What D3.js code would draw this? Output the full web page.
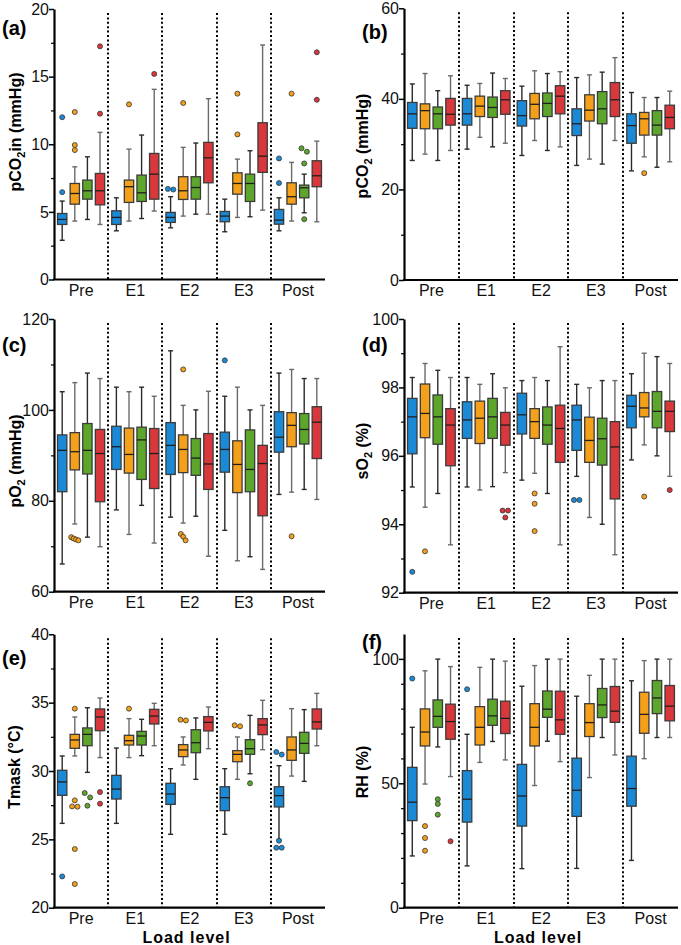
<!DOCTYPE html>
<html><head><meta charset="utf-8">
<script src="https://cdn.jsdelivr.net/npm/d3@7"></script>
<style>
body{margin:0;background:#fff;}
svg{display:block;font-family:"Liberation Sans",Arial,Helvetica,sans-serif;}
</style>
</head><body>
<svg id="chart" width="681" height="945"></svg>
<script>
// ---------------- DATA ----------------
const groups = ["Pre", "E1", "E2", "E3", "Post"];
const seriesColors = ["#1b8ad6", "#f5a01a", "#5ca72b", "#d8383b"];
// boxes: per group, per series: [whiskerLow, q1, median, q3, whiskerHigh]
const pco2inBoxes = [
  [[2.9,4.07,4.44,4.88,5.8],[4.32,5.57,6.36,7.1,8.33],[4.44,5.94,6.56,7.35,9.07],[4.07,5.52,6.56,7.84,10.88]],
  [[3.6,4.07,4.59,5.08,6.04],[4.32,5.7,6.86,7.35,9.64],[4.51,5.77,6.41,7.72,10.68],[5.06,5.94,7.79,9.32,14.06]],
  [[3.82,4.22,4.59,4.96,6.12],[4.69,5.92,6.56,7.6,9.77],[4.83,5.94,6.8,7.6,10.09],[4.83,7.15,9.0,10.14,13.37]],
  [[3.53,4.27,4.69,5.03,5.94],[4.59,6.31,7.1,7.89,8.9],[4.64,5.77,7.1,7.79,9.52],[5.13,7.92,9.12,11.59,17.34]],
  [[3.6,4.09,4.39,5.18,6.04],[4.32,5.57,6.12,7.15,8.66],[4.93,6.04,6.78,6.98,7.79],[4.27,6.86,7.67,8.78,10.23]]
];
// outliers: [group, seriesIndex, value]
const pco2inOutliers = [
  ["Pre",0,6.46],["Pre",0,12.0],["Pre",1,12.38],["Pre",1,9.94],["Pre",1,9.57],["Pre",3,17.24],["Pre",3,12.26],
  ["E1",1,12.95],["E1",3,15.2],
  ["E2",0,6.65],["E2",0,6.7],["E2",1,13.05],
  ["E3",1,13.74],["E3",1,10.73],
  ["Post",0,8.95],["Post",0,7.13],["Post",1,13.74],["Post",2,9.7],["Post",2,9.45],["Post",2,8.58],["Post",2,4.46],["Post",3,16.8],["Post",3,13.29]
];
const pco2Boxes = [
  [[26.4,33.5,36.7,39.2,43.3],[27.8,33.4,37.4,38.9,45.6],[26.4,33.4,36.7,38.2,41.8],[28.6,34.2,36.6,40.1,45.1]],
  [[28.9,34.2,36.7,40.1,43.0],[31.5,36.1,38.4,40.6,43.4],[29.4,35.9,38.1,40.4,45.7],[30.2,36.6,39.8,41.8,44.5]],
  [[27.5,34.0,36.3,39.6,42.8],[30.8,35.6,38.8,41.2,46.2],[28.6,36.1,39.0,41.3,45.6],[29.4,36.7,40.6,42.9,46.0]],
  [[25.3,31.9,34.5,37.8,44.7],[26.7,35.1,37.5,40.9,45.3],[25.6,34.5,37.8,41.6,45.9],[30.8,36.1,39.8,43.6,49.1]],
  [[24.1,30.2,34.1,36.7,41.4],[27.2,32.0,35.6,37.0,40.3],[24.9,32.0,34.2,37.4,40.3],[26.1,33.4,35.9,38.6,41.7]]
];
const pco2Outliers = [["Post",1,23.6]];
const po2Boxes = [
  [[66.1,82.0,91.1,94.5,104.0],[74.9,86.8,90.8,95.0,106.0],[72.0,85.9,91.1,97.0,108.1],[69.9,79.8,90.4,95.7,106.9]],
  [[78.0,86.9,91.9,96.4,105.0],[72.6,86.1,90.2,96.0,104.0],[79.0,84.7,93.4,96.2,105.0],[70.7,82.7,90.4,95.9,103.0]],
  [[76.4,85.8,92.2,97.2,113.0],[75.1,86.2,91.3,94.5,101.0],[76.6,85.6,89.4,93.7,100.0],[67.8,82.5,88.1,94.8,104.1]],
  [[73.5,86.3,91.3,95.1,103.0],[66.8,81.8,88.0,93.2,105.0],[67.7,82.0,86.9,95.6,100.0],[64.9,76.7,88.2,92.2,101.0]],
  [[81.4,90.7,94.0,99.6,108.1],[81.9,91.9,96.6,99.4,108.9],[82.5,92.5,95.7,99.2,106.9],[80.3,89.3,97.3,100.7,106.9]]
];
const po2Outliers = [
  ["Pre",1,72.0],["Pre",1,71.7],["Pre",1,71.3],["Pre",1,71.5],
  ["E2",1,108.9],["E2",1,72.7],["E2",1,72.1],["E2",1,71.3],
  ["E3",0,110.9],["Post",1,72.2]
];
const so2Boxes = [
  [[95.09,96.06,97.14,97.68,98.29],[94.5,96.53,97.24,98.1,98.7],[94.9,96.34,97.14,97.78,98.5],[93.4,95.71,96.9,97.38,98.29]],
  [[95.09,96.51,97.05,97.58,98.29],[95.0,96.36,97.1,97.6,98.09],[95.1,96.51,97.14,97.68,98.4],[95.51,96.31,96.9,97.27,97.99]],
  [[95.29,96.64,97.2,97.83,98.2],[95.49,96.51,97.0,97.38,98.29],[94.9,96.34,96.9,97.43,98.2],[93.4,95.81,96.8,97.48,99.19]],
  [[95.4,96.16,97.05,97.48,98.09],[94.2,95.81,96.45,97.13,97.99],[94.0,95.73,96.5,97.1,98.2],[93.11,94.74,96.26,97.0,98.2]],
  [[95.88,96.82,97.45,97.77,98.4],[96.32,97.14,97.4,97.85,99.0],[96.0,96.82,97.3,97.88,98.9],[95.4,96.71,97.3,97.6,98.7]]
];
const so2Outliers = [
  ["Pre",0,92.61],["Pre",1,93.21],
  ["E1",3,94.4],["E1",3,94.4],["E1",3,94.2],
  ["E2",1,94.9],["E2",1,94.6],["E2",1,93.8],
  ["E3",0,94.71],["E3",0,94.71],
  ["Post",1,94.81],["Post",3,95.0]
];
const tmaskBoxes = [
  [[26.17,28.22,29.2,30.05,31.1],[31.1,31.66,32.27,32.68,33.95],[29.9,31.85,32.68,33.15,34.63],[30.98,32.95,33.95,34.54,35.34]],
  [[26.17,27.95,28.68,29.68,31.68],[30.98,31.9,32.22,32.61,33.83],[31.12,31.9,32.56,32.9,33.78],[31.85,33.44,34.02,34.51,34.95]],
  [[25.37,27.56,28.32,29.1,30.17],[30.44,31.05,31.54,31.93,32.49],[29.39,31.34,32.07,33.02,33.88],[31.63,32.93,33.56,33.98,34.68]],
  [[25.37,27.1,28.05,28.85,30.17],[29.39,30.68,31.22,31.49,32.49],[29.8,31.22,31.63,32.29,34.07],[31.56,32.66,33.37,33.83,35.17]],
  [[24.95,27.37,28.2,28.85,30.39],[29.63,30.78,31.54,32.49,34.56],[29.24,31.29,32.02,32.83,34.49],[31.85,33.07,33.59,34.54,35.68]]
];
const tmaskOutliers = [
  ["Pre",0,22.29],["Pre",1,34.56],["Pre",1,27.85],["Pre",1,27.39],["Pre",1,27.41],["Pre",1,24.29],["Pre",1,21.73],
  ["Pre",2,28.39],["Pre",2,28.07],["Pre",2,27.46],["Pre",3,28.46],["Pre",3,27.61],
  ["E1",1,34.56],
  ["E2",1,33.7],["E2",1,33.75],
  ["E3",1,33.27],["E3",1,33.34],["E3",2,29.1],
  ["Post",0,31.39],["Post",0,31.2],["Post",0,24.9],["Post",0,24.39],["Post",0,24.39]
];
const rhBoxes = [
  [[20.8,35.0,42.4,56.4,72.5],[49.7,65.0,70.6,79.9,95.2],[64.6,72.5,76.9,83.5,99.9],[52.7,67.7,74.8,81.8,96.9]],
  [[16.8,34.4,43.6,55.1,69.7],[58.4,65.4,72.5,80.8,96.6],[66.8,73.3,77.1,83.8,99.9],[59.4,70.0,76.1,83.0,99.1]],
  [[15.7,32.8,44.9,57.6,89.0],[49.1,65.0,72.5,82.0,97.3],[66.9,76.5,79.8,87.1,99.9],[58.7,69.7,75.5,87.0,99.9]],
  [[15.8,36.7,47.2,60.1,85.0],[52.3,68.8,74.4,82.0,93.4],[68.4,76.4,81.5,88.1,99.9],[61.4,74.5,79.0,88.9,99.9]],
  [[19.0,40.8,47.9,60.9,91.2],[59.9,70.1,77.7,86.6,99.3],[68.4,78.0,84.3,91.3,99.9],[68.4,75.1,81.0,89.3,99.9]]
];
const rhOutliers = [
  ["Pre",0,92.1],["Pre",1,32.8],["Pre",1,28.0],["Pre",1,22.9],["Pre",2,43.6],["Pre",2,41.7],["Pre",2,37.4],["Pre",3,26.7],
  ["E1",0,87.8]
];
const pco2inTicks = [0,5,10,15,20], pco2inMinor = [2.5,7.5,12.5,17.5];
const pco2Ticks = [0,20,40,60], pco2Minor = [10,30,50];
const po2Ticks = [60,80,100,120], po2Minor = [70,90,110];
const so2Ticks = [92,94,96,98,100], so2Minor = [93,95,97,99];
const tmaskTicks = [20,25,30,35,40], tmaskMinor = [22.5,27.5,32.5,37.5];
const rhTicks = [0,50,100], rhMinor = [10,20,30,40,60,70,80,90];

// ---------------- LAYOUT ----------------
const L = {left:54, right:325}, R = {left:404, right:678};
const panels = [
  {tag:"(a)", title:[["pCO",0],["2",1],["in (mmHg)",0]], boxes:pco2inBoxes, outliers:pco2inOutliers, domain:[0,20], ticks:pco2inTicks, minor:pco2inMinor,
   ...L, top:9, bottom:279.5, tagX:2, tagY:35, titleX:21, titleY:132, xlabel:false},
  {tag:"(b)", title:[["pCO",0],["2",1],[" (mmHg)",0]], boxes:pco2Boxes, outliers:pco2Outliers, domain:[0,60], ticks:pco2Ticks, minor:pco2Minor,
   ...R, top:8.3, bottom:280, tagX:362, tagY:39, titleX:368, titleY:146, xlabel:false},
  {tag:"(c)", title:[["pO",0],["2",1],[" (mmHg)",0]], boxes:po2Boxes, outliers:po2Outliers, domain:[60,120], ticks:po2Ticks, minor:po2Minor,
   ...L, top:319, bottom:591.7, tagX:2, tagY:352, titleX:21, titleY:461, xlabel:false},
  {tag:"(d)", title:[["sO",0],["2",1],[" (%)",0]], boxes:so2Boxes, outliers:so2Outliers, domain:[92,100], ticks:so2Ticks, minor:so2Minor,
   ...R, top:319, bottom:592.7, tagX:362, tagY:352, titleX:368, titleY:451, xlabel:false},
  {tag:"(e)", title:[["Tmask (°C)",0]], boxes:tmaskBoxes, outliers:tmaskOutliers, domain:[20,40], ticks:tmaskTicks, minor:tmaskMinor,
   ...L, top:634.3, bottom:907.7, tagX:2, tagY:665, titleX:20, titleY:767, xlabel:true},
  {tag:"(f)", title:[["RH (%)",0]], boxes:rhBoxes, outliers:rhOutliers, domain:[0,110], ticks:rhTicks, minor:rhMinor,
   ...R, top:634, bottom:907.7, tagX:362, tagY:649, titleX:368, titleY:772, xlabel:true}
];

const svg = d3.select("#chart");

panels.forEach(p => {
  const g = svg.append("g");
  const x = d3.scaleBand().domain(groups).range([p.left, p.right]).padding(0);
  const xs = d3.scaleBand().domain([0,1,2,3]).range([0, x.bandwidth()]).paddingInner(0.26).paddingOuter(0.28);
  const y = d3.scaleLinear().domain(p.domain).range([p.bottom, p.top]);
  const bw = xs.bandwidth();

  // dotted separators
  g.append("g").selectAll("line").data(groups.slice(1)).join("line")
    .attr("x1", d => Math.round(x(d))).attr("x2", d => Math.round(x(d)))
    .attr("y1", p.top + 4).attr("y2", p.bottom)
    .attr("stroke", "#000").attr("stroke-width", 2).attr("stroke-dasharray", "2,2.4");

  // boxes
  groups.forEach((gn, gi) => {
    p.boxes[gi].forEach((b, si) => {
      const cx = x(gn) + xs(si) + bw / 2;
      const [lo, q1, md, q3, hi] = b;
      const wc = si % 2 === 0 ? "#2a2a2a" : "#6a6a6a";
      const bg = g.append("g");
      bg.append("line").attr("x1", cx).attr("x2", cx).attr("y1", y(hi)).attr("y2", y(q3)).attr("stroke", wc).attr("stroke-width", 1.4);
      bg.append("line").attr("x1", cx).attr("x2", cx).attr("y1", y(q1)).attr("y2", y(lo)).attr("stroke", wc).attr("stroke-width", 1.4);
      [lo, hi].forEach(v => bg.append("line").attr("x1", cx - 2.5).attr("x2", cx + 2.5).attr("y1", y(v)).attr("y2", y(v)).attr("stroke", wc).attr("stroke-width", 1.4));
      bg.append("rect").attr("x", cx - bw / 2).attr("y", y(q3)).attr("width", bw).attr("height", y(q1) - y(q3))
        .attr("fill", seriesColors[si]).attr("stroke", "#3b3b3b").attr("stroke-width", 1.3);
      bg.append("line").attr("x1", cx - bw / 2).attr("x2", cx + bw / 2).attr("y1", y(md)).attr("y2", y(md)).attr("stroke", "#1e1e1e").attr("stroke-width", 1.3);
    });
  });

  // outliers with side-by-side placement for overlapping ones
  const byBox = d3.group(p.outliers, d => d[0] + "|" + d[1]);
  byBox.forEach(list => {
    const sorted = list.slice().sort((a, b) => b[2] - a[2]);
    const clusters = [];
    sorted.forEach(o => {
      const last = clusters[clusters.length - 1];
      if (last && Math.abs(y(last[last.length - 1][2]) - y(o[2])) < 4.5) last.push(o); else clusters.push([o]);
    });
    clusters.forEach(cl => {
      const step = cl.length > 2 ? 2.4 : 5.4;
      cl.forEach((o, i) => {
        const cx = x(o[0]) + xs(o[1]) + bw / 2 + (i - (cl.length - 1) / 2) * step;
        g.append("circle").attr("cx", cx).attr("cy", y(o[2])).attr("r", 2.5)
          .attr("fill", seriesColors[o[1]]).attr("stroke", "#333").attr("stroke-width", 0.8);
      });
    });
  });

  // minor ticks
  g.append("g").attr("transform", `translate(${p.left},0)`)
    .call(d3.axisLeft(y).tickValues(p.minor).tickSize(3).tickFormat(""))
    .call(s => s.select(".domain").remove())
    .call(s => s.selectAll("line").attr("stroke", "#111").attr("stroke-width", 1.3));
  // major axis
  g.append("g").attr("transform", `translate(${p.left},0)`)
    .call(d3.axisLeft(y).tickValues(p.ticks).tickSize(5).tickSizeOuter(0).tickPadding(0).tickFormat(d3.format("d")))
    .call(s => s.select(".domain").attr("stroke", "#000").attr("stroke-width", 2.2))
    .call(s => s.selectAll(".tick line").attr("stroke", "#000").attr("stroke-width", 1.5))
    .call(s => s.selectAll("text").attr("font-size", 16).attr("fill", "#111").attr("font-family", "'Liberation Sans', Arial, sans-serif"));
  // bottom axis
  g.append("g").attr("transform", `translate(0,${p.bottom})`)
    .call(d3.axisBottom(x).tickSize(0).tickSizeOuter(0).tickPadding(5))
    .call(s => s.select(".domain").attr("stroke", "#000").attr("stroke-width", 2.2).attr("d", `M${p.left - 1},0H${p.right}`))
    .call(s => s.selectAll("text").attr("font-size", 16).attr("fill", "#111").attr("font-family", "'Liberation Sans', Arial, sans-serif"));

  // panel tag
  svg.append("text").attr("x", p.tagX).attr("y", p.tagY).attr("font-size", 20).attr("font-weight", "bold").text(p.tag);

  // y title
  const t = svg.append("text").attr("transform", `translate(${p.titleX},${p.titleY}) rotate(-90)`)
    .attr("text-anchor", "middle").attr("font-size", 16).attr("font-weight", "bold");
  let sub = false;
  p.title.forEach(([txt, isSub]) => {
    const ts = t.append("tspan").text(txt);
    if (isSub) { ts.attr("font-size", 11).attr("dy", 4); sub = true; }
    else if (sub) { ts.attr("dy", -4); sub = false; }
  });

  if (p.xlabel) {
    svg.append("text").attr("x", (p.left + p.right) / 2 - 3).attr("y", 943).attr("text-anchor", "middle")
      .attr("font-size", 16).attr("font-weight", "bold").attr("letter-spacing", 1).text("Load level");
  }
});
</script>
</body></html>
